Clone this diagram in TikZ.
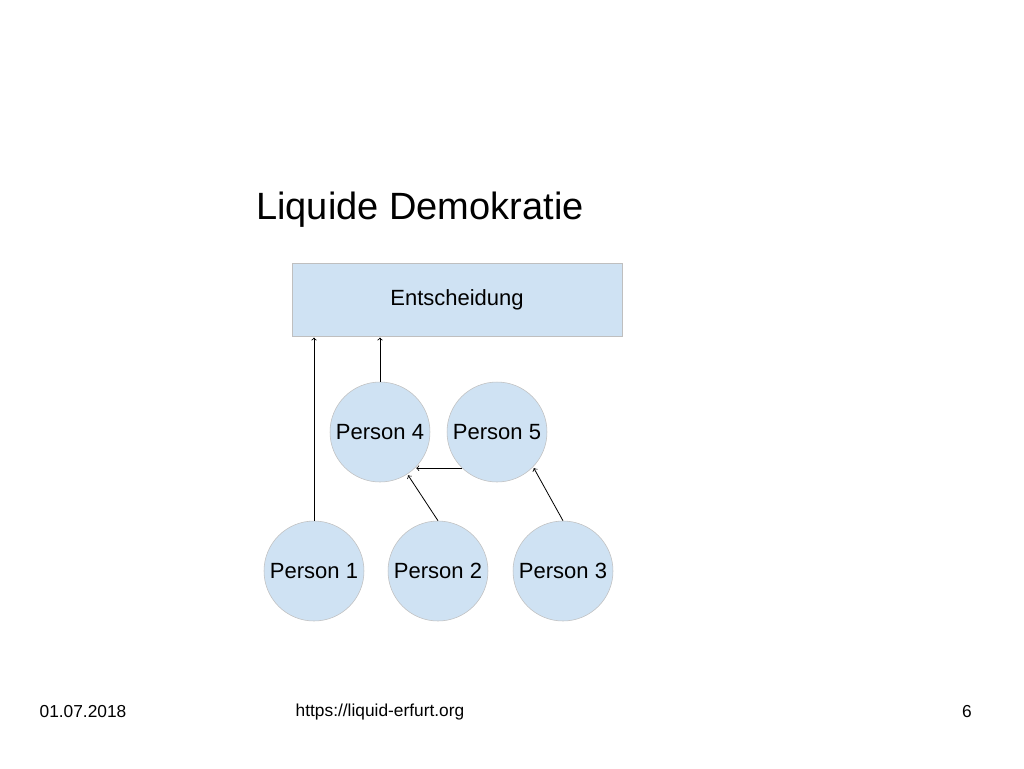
\documentclass[tikz,border=0pt]{standalone}
\usepackage{fontspec}
\setmainfont{Liberation Sans}
\begin{document}
\begin{tikzpicture}[x=0.75pt,y=-0.75pt,
  person/.style={circle,draw=black!25,fill=blueF,minimum size=75pt,inner sep=0pt,font=\fontsize{16.5}{18}\selectfont},
  arr/.style={->,>=to,semithick,shorten >=1pt}]
\definecolor{blueF}{RGB}{207,226,243}
\useasboundingbox (0,0) rectangle (1024,768);
\node[font=\fontsize{28.5}{32}\selectfont] (title) at (420,210) {Liquide Demokratie};
\node[draw=black!25,fill=blueF,minimum width=247.5pt,minimum height=54.75pt,font=\fontsize{16.5}{18}\selectfont] (ent) at (457,299.5) {Entscheidung};
\node[person] (p1) at (314,571) {Person 1};
\node[person] (p2) at (438,571) {Person 2};
\node[person] (p3) at (563,571) {Person 3};
\node[person] (p4) at (380,432) {Person 4};
\node[person] (p5) at (497,432) {Person 5};
\draw[arr] (p1.north) -- (p1.north |- ent.south);
\draw[arr] (p4.north) -- (p4.north |- ent.south);
\draw[arr] (p5.226) -- (p4.-46);
\draw[arr] (p2.north) -- (p4.-57);
\draw[arr] (p3.north) -- (p5.-44);
\node[font=\fontsize{13}{15}\selectfont] (date) at (83,712) {01.07.2018};
\node[font=\fontsize{13}{15}\selectfont] (url) at (380,712) {https://liquid-erfurt.org};
\node[font=\fontsize{13}{15}\selectfont] (pg) at (967,712) {6};
\end{tikzpicture}
\end{document}
